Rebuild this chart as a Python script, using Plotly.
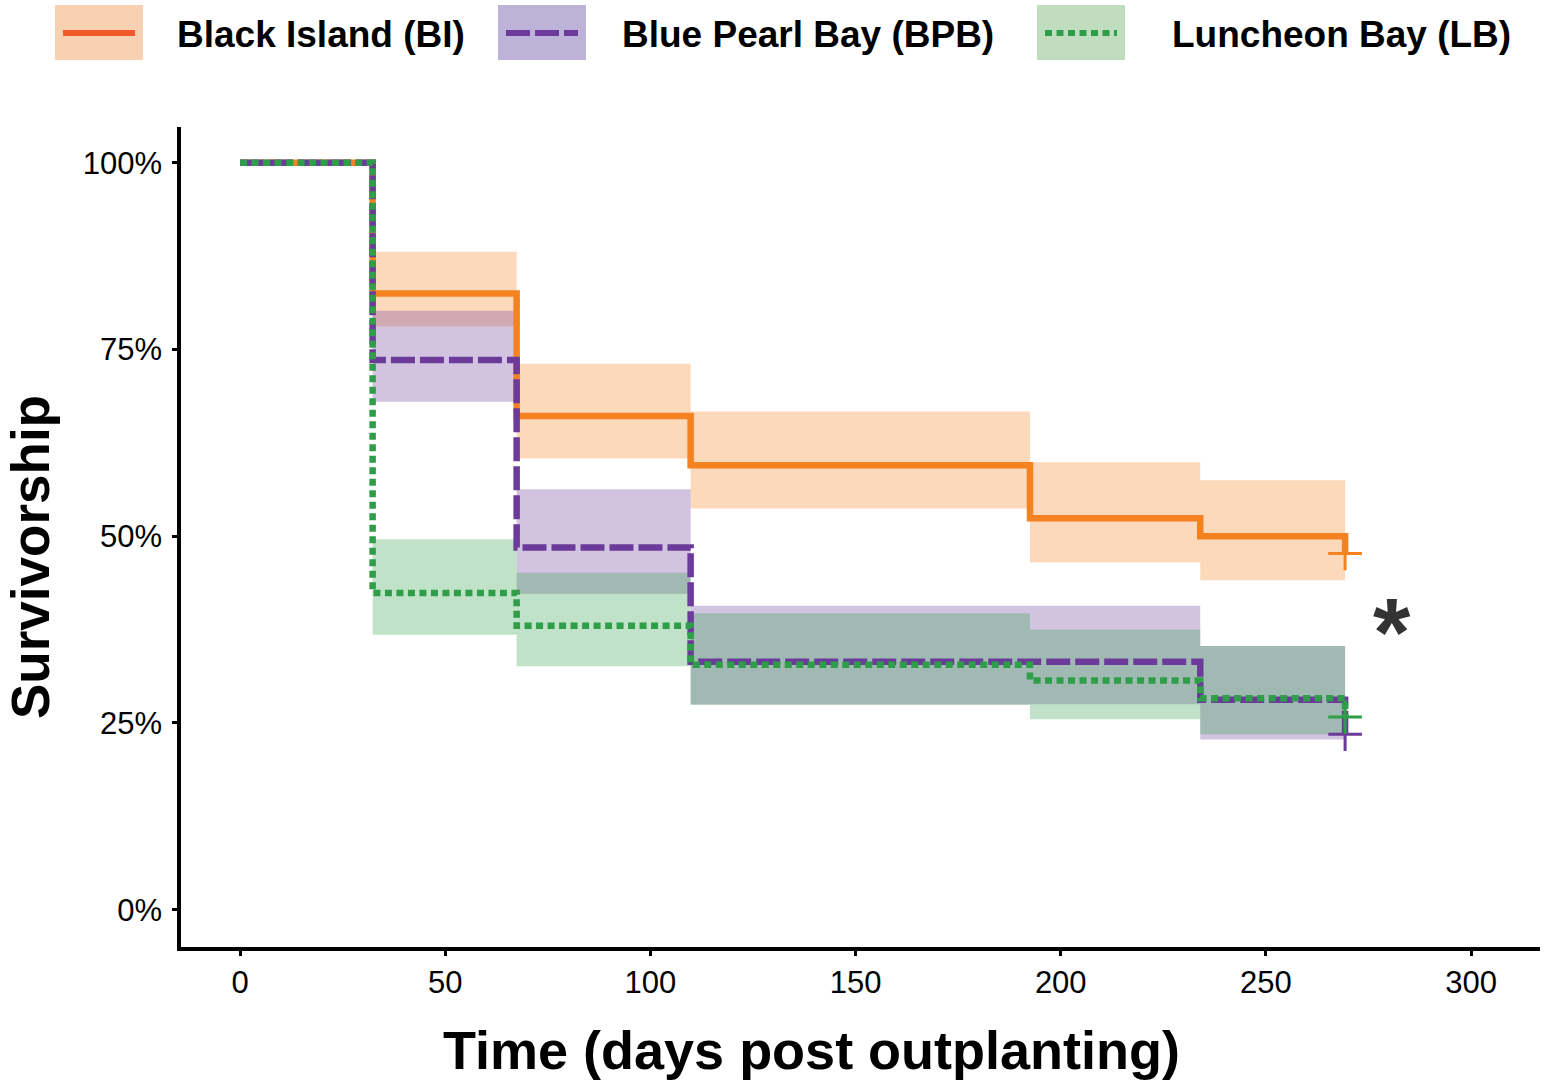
import plotly.graph_objects as go

# Kaplan-Meier survivorship per site (%)
SITES = ["Black Island (BI)", "Blue Pearl Bay (BPB)", "Luncheon Bay (LB)"]

BI_TIME = [0, 32.3, 67.4, 109.8, 192.5, 234.0, 269.3]
BI_SURV = [100, 82.5, 66.1, 59.5, 52.4, 50.0, 47.7]
BI_LOWER = [100, 78.1, 60.4, 53.7, 46.5, 44.1]
BI_UPPER = [100, 88.1, 73.1, 66.7, 59.9, 57.5]

BPB_TIME = [0, 32.3, 67.4, 109.8, 234.0, 269.3]
BPB_SURV = [100, 73.6, 48.5, 33.2, 28.1, 23.5]
BPB_LOWER = [100, 68.0, 42.3, 27.5, 22.8]
BPB_UPPER = [100, 80.2, 56.3, 40.7, 35.3]

LB_TIME = [0, 32.3, 67.4, 109.8, 192.5, 234.0, 269.3]
LB_SURV = [100, 42.4, 38.0, 32.8, 30.7, 28.3, 25.8]
LB_LOWER = [100, 36.8, 32.6, 27.4, 25.5, 23.5]
LB_UPPER = [100, 49.6, 45.1, 39.7, 37.5, 35.3]

X_TICKS = [0, 50, 100, 150, 200, 250, 300]
Y_TICKS = [0, 25, 50, 75, 100]
Y_TICK_LABELS = ["0%", "25%", "50%", "75%", "100%"]

LINE_COLORS = ["#F58220", "#6B3A9B", "#2E9E48"]
LEGEND_LINE_COLORS = ["#F15A2B", "#6B3A9B", "#2E9E48"]
BAND_COLORS = ["rgba(247,130,32,0.3)", "rgba(107,58,155,0.3)", "rgba(46,158,72,0.3)"]
LEGEND_BOX_COLORS = ["#F9D1B2", "#BDB3D8", "#C1DDC0"]
DASHES = ["solid", "24px,5px", "7px,4.5px"]

FONT = "Liberation Sans, Arial, sans-serif"
W, H = 1544, 1081
ML, MR, MT, MB = 181, 4, 127, 134
PW, PH = W - ML - MR, H - MT - MB


def px_x(px):
    return (px - ML) / PW


def px_y(py):
    return (H - MB - py) / PH


series = [
    (BI_TIME, BI_SURV, BI_LOWER, BI_UPPER),
    (BPB_TIME, BPB_SURV, BPB_LOWER, BPB_UPPER),
    (LB_TIME, LB_SURV, LB_LOWER, LB_UPPER),
]

fig = go.Figure()

# confidence ribbons
for i, (t, s, lo, up) in enumerate(series):
    lo_full = lo + [lo[-1]]
    up_full = up + [up[-1]]
    fig.add_trace(go.Scatter(x=t, y=lo_full, mode="lines", line=dict(width=0, shape="hv"),
                             showlegend=False, hoverinfo="skip"))
    fig.add_trace(go.Scatter(x=t, y=up_full, mode="lines", line=dict(width=0, shape="hv"),
                             fill="tonexty", fillcolor=BAND_COLORS[i],
                             showlegend=False, hoverinfo="skip"))

# survival curves
for i, (t, s, lo, up) in enumerate(series):
    fig.add_trace(go.Scatter(x=t, y=s, mode="lines", name=SITES[i],
                             line=dict(color=LINE_COLORS[i], width=6.5, shape="hv", dash=DASHES[i]),
                             showlegend=False))

# censor marks
for i, (t, s, lo, up) in enumerate(series):
    fig.add_trace(go.Scatter(x=[t[-1]], y=[s[-1]], mode="markers", showlegend=False,
                             marker=dict(symbol="cross-thin", size=24,
                                         line=dict(color=LINE_COLORS[i], width=3))))

# significance mark
fig.add_annotation(x=280.8, y=37.2, text="<b>*</b>", showarrow=False,
                   font=dict(family=FONT, size=96, color="#333333"))

# custom legend across the top
legend_box_x = [55, 498, 1037]
legend_text_x = [175, 620, 1170]
for i, name in enumerate(SITES):
    x0 = legend_box_x[i]
    fig.add_shape(type="rect", xref="paper", yref="paper",
                  x0=px_x(x0), x1=px_x(x0 + 88), y0=px_y(60), y1=px_y(5),
                  fillcolor=LEGEND_BOX_COLORS[i], line=dict(width=0))
    fig.add_shape(type="line", xref="paper", yref="paper",
                  x0=px_x(x0 + 8), x1=px_x(x0 + 80), y0=px_y(33), y1=px_y(33),
                  line=dict(color=LEGEND_LINE_COLORS[i], width=6, dash=DASHES[i]))
    fig.add_annotation(xref="paper", yref="paper", x=px_x(legend_text_x[i]), y=px_y(35),
                       xanchor="left", yanchor="middle", showarrow=False,
                       text=f"<b>{name}</b>", font=dict(family=FONT, size=37, color="black"))

# axis titles
fig.add_annotation(xref="paper", yref="paper", x=px_x(811), y=px_y(1050),
                   xanchor="center", yanchor="middle", showarrow=False,
                   text="<b>Time (days post outplanting)</b>",
                   font=dict(family=FONT, size=54, color="black"))
fig.add_annotation(xref="paper", yref="paper", x=px_x(30), y=px_y(557),
                   xanchor="center", yanchor="middle", showarrow=False, textangle=-90,
                   text="<b>Survivorship</b>",
                   font=dict(family=FONT, size=53, color="black"))

fig.update_layout(
    width=W, height=H,
    margin=dict(l=ML, r=MR, t=MT, b=MB),
    plot_bgcolor="white", paper_bgcolor="white",
    showlegend=False,
    font=dict(family=FONT, color="black"),
)
fig.update_xaxes(range=[-14.4, 316.8], tickvals=X_TICKS, showgrid=False, zeroline=False,
                 showline=True, linecolor="black", linewidth=3.5,
                 ticks="outside", ticklen=5, tickwidth=3, tickcolor="black",
                 tickfont=dict(family=FONT, size=31, color="black"), ticklabelstandoff=0)
fig.update_yaxes(range=[-5.0, 104.8], tickvals=Y_TICKS, ticktext=Y_TICK_LABELS,
                 showgrid=False, zeroline=False,
                 showline=True, linecolor="black", linewidth=3.5,
                 ticks="outside", ticklen=5, tickwidth=3, tickcolor="black",
                 tickfont=dict(family=FONT, size=31, color="black"), ticklabelstandoff=4)

fig.write_html("out.html", config={"displayModeBar": False},
               post_script="document.body.style.margin='0';")
